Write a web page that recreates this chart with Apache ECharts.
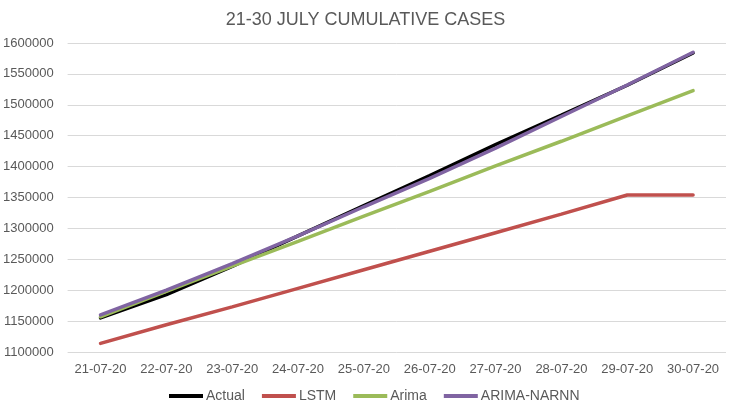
<!DOCTYPE html>
<html><head><meta charset="utf-8">
<script src="https://cdn.jsdelivr.net/npm/echarts@6/dist/echarts.min.js"></script>
<style>html,body{margin:0;padding:0;background:#fff}#c{width:731px;height:414px}</style>
</head><body><div id="c"></div>
<script>
const categories = ['21-07-20','22-07-20','23-07-20','24-07-20','25-07-20','26-07-20','27-07-20','28-07-20','29-07-20','30-07-20'];
const actual = [1155191,1192915,1238635,1287945,1336861,1385522,1435453,1483156,1531669,1583792];
const lstm = [1114000,1144000,1173000,1203000,1233000,1263000,1293000,1323000,1354000,1354000];
const arima = [1157000,1198000,1239000,1279000,1320000,1360000,1401000,1441000,1482000,1523000];
const arimaNarnn = [1160000,1200000,1243000,1288000,1335000,1381000,1430000,1481000,1532000,1585000];
const seriesNames = ['Actual','LSTM','Arima','ARIMA-NARNN'];
const colors = ['#000000','#C0504D','#9BBB59','#8064A2'];
const font = 'Liberation Sans, Arial, sans-serif';
const chart = echarts.init(document.getElementById('c'), null, {renderer:'canvas'});
const mk = (name, data, i) => ({name, type:'line', data, symbol:'none', smooth:false,
  lineStyle:{width:3.5, color:colors[i], cap:'round'}, itemStyle:{color:colors[i]}, z: 2});
chart.setOption({
  animation:false,
  title:{text:'21-30 JULY CUMULATIVE CASES', left:'center', top:6,
    textStyle:{fontFamily:font, fontSize:18, fontWeight:'normal', color:'#595959'}},
  legend:{bottom:6, left:164, itemWidth:34, itemHeight:4, itemGap:17, icon:'rect',
    textStyle:{fontFamily:font, fontSize:14, color:'#595959', padding:[0,0,0,-2]}, data:seriesNames},
  grid:{left:67, right:5, top:43, bottom:62, containLabel:false},
  xAxis:{type:'category', data:categories, boundaryGap:true,
    axisLine:{show:false}, axisTick:{show:false},
    axisLabel:{interval:0, fontFamily:font, fontSize:13, color:'#595959', margin:11}},
  yAxis:{type:'value', min:1100000, max:1600000, interval:50000,
    axisLine:{show:false}, axisTick:{show:false},
    splitLine:{lineStyle:{color:'#D9D9D9', width:1}},
    axisLabel:{fontFamily:font, fontSize:13, color:'#595959', margin:14, formatter: v => String(v)}},
  series:[mk('Actual',actual,0), mk('LSTM',lstm,1), mk('Arima',arima,2), mk('ARIMA-NARNN',arimaNarnn,3)]
});
</script></body></html>
